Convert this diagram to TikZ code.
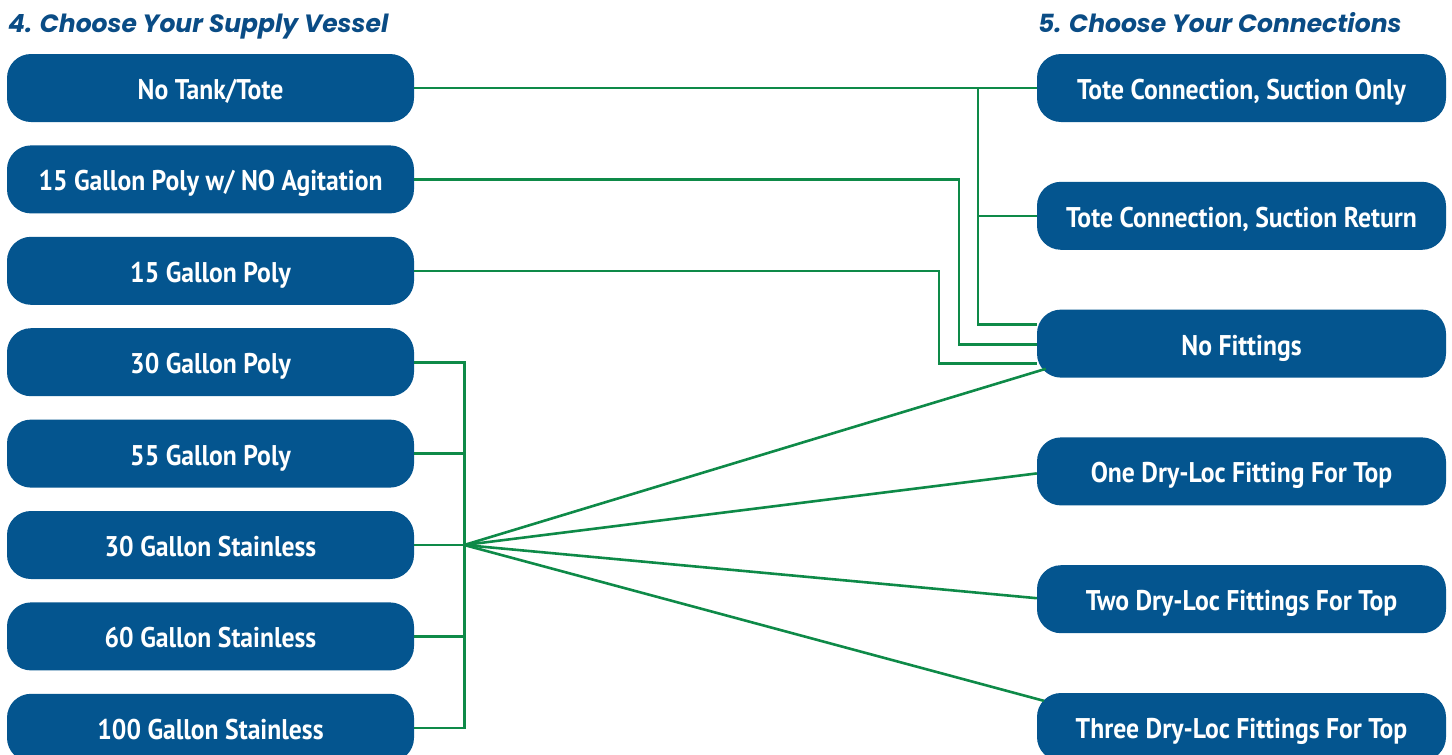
\documentclass[tikz,border=0pt]{standalone}
\usepackage{fontspec}
\setmainfont{PT Sans}
\newfontfamily\boxfont{PT Sans Bold}[FakeStretch=0.9]
\newfontfamily\headfont{Poppins Bold Italic}
\usetikzlibrary{positioning}
\definecolor{vesselblue}{HTML}{04558F}
\definecolor{headblue}{HTML}{0A4C85}
\definecolor{pipegreen}{HTML}{0E8A48}

\begin{document}
\begin{tikzpicture}[x=1pt,y=-1pt,
    choice/.style={rectangle,rounded corners=24pt,fill=vesselblue,text=white,
                   minimum width=407pt,minimum height=68pt,inner sep=0pt,
                   text height=23pt,text depth=0pt,
                   font=\boxfont\fontsize{28.5}{28.5}\selectfont},
    head/.style={anchor=base west,inner sep=0pt,text=headblue,
                 font=\headfont\fontsize{25}{25}\selectfont},
    pipe/.style={draw=pipegreen,line width=2.6pt},
    node distance=23pt]

  \useasboundingbox (0,0) rectangle (1452,755);

  % headings
  \node[head] (vesselhead) at (8,32)    {4. Choose Your Supply Vessel};
  \node[head] (connhead)   at (1038,32) {5. Choose Your Connections};

  % supply vessels
  \node[choice] (notank)   at (210.5,88)          {No Tank/Tote};
  \node[choice] (poly15na) [below=of notank]      {15 Gallon Poly w/ NO Agitation};
  \node[choice] (poly15)   [below=of poly15na]    {15 Gallon Poly};
  \node[choice] (poly30)   [below=of poly15]      {30 Gallon Poly};
  \node[choice] (poly55)   [below=of poly30]      {55 Gallon Poly};
  \node[choice] (stain30)  [below=of poly55]      {30 Gallon Stainless};
  \node[choice] (stain60)  [below=of stain30]     {60 Gallon Stainless};
  \node[choice] (stain100) [below=of stain60]     {100 Gallon Stainless};

  % connections
  \begin{scope}[node distance=59.4pt,choice/.append style={minimum width=409pt}]
    \node[choice] (suction)  at (1241.5,88)       {Tote Connection, Suction Only};
    \node[choice] (return)   [below=of suction]   {Tote Connection, Suction Return};
    \node[choice] (nofit)    [below=of return]    {No Fittings};
    \node[choice] (onedry)   [below=of nofit]     {One Dry-Loc Fitting For Top};
    \node[choice] (twodry)   [below=of onedry]    {Two Dry-Loc Fittings For Top};
    \node[choice] (threedry) [below=of twodry]    {Three Dry-Loc Fittings For Top};
  \end{scope}

  % tote lines
  \coordinate (toteriser) at (978,88);
  \draw[pipe] (notank.east) -- (suction.west);
  \draw[pipe] (toteriser) |- ([yshift=19pt]nofit.west);
  \draw[pipe] (toteriser |- return.west) -- (return.west);
  \draw[pipe] (poly15na.east) -| ([xshift=-78pt,yshift=-1pt]nofit.west)
                              -- ([yshift=-1pt]nofit.west);
  \draw[pipe] (poly15.east) -| ([xshift=-98pt,yshift=-20pt]nofit.west)
                            -- ([yshift=-20pt]nofit.west);

  % vessel bus
  \coordinate[right=50pt of stain30] (bus);
  \draw[pipe] (poly30.east) -| (bus |- stain100.east) -- (stain100.east);
  \draw[pipe] (poly55.east) -- (bus |- poly55.east);
  \draw[pipe] (stain30.east) -- (bus);
  \draw[pipe] (stain60.east) -- (bus |- stain60.east);

  \draw[pipe] (bus) -- ([xshift=9pt,yshift=9pt]nofit.south west);
  \draw[pipe] (bus) -- ([yshift=-2pt]onedry.west);
  \draw[pipe] (bus) -- ([yshift=1pt]twodry.west);
  \draw[pipe] (bus) -- ([xshift=7pt,yshift=-8pt]threedry.north west);
\end{tikzpicture}
\end{document}
